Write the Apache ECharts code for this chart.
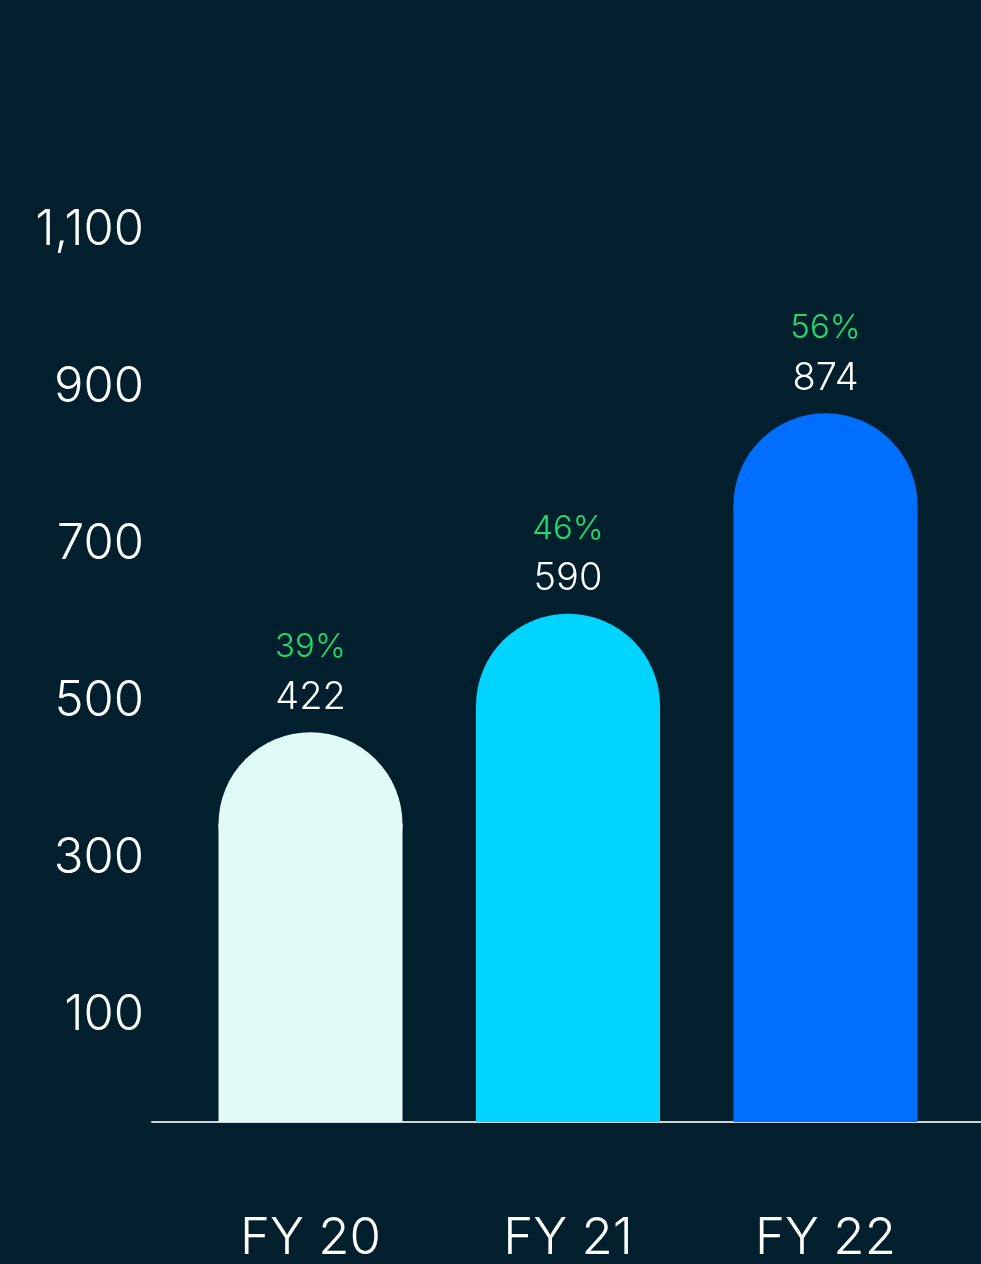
<!DOCTYPE html>
<html>
<head>
<meta charset="utf-8">
<script src="https://cdn.jsdelivr.net/npm/echarts@6/dist/echarts.min.js"></script>
<style>
  html, body { margin: 0; padding: 0; background: #021f2e; }
  #chart { width: 981px; height: 1264px; }
</style>
</head>
<body>
<div id="chart"></div>
<script>
// ---- data ----
const categories = ['FY 20', 'FY 21', 'FY 22'];
const values = [422, 590, 874];
const shares = ['39%', '46%', '56%'];
const yTickMin = -100;
const yTickMax = 1100;
const yTickStep = 200;

// ---- styles ----
const barColors = ['#e0faf6', '#00d4ff', '#006fff'];
const FONT = 'Inter';
const WEIGHT = 300;
const BAR_W = 184;

const chart = echarts.init(document.getElementById('chart'), null, { renderer: 'canvas' });

chart.setOption({
  backgroundColor: '#021f2e',
  animation: false,
  grid: [
    { left: 152, right: 0, top: 230, bottom: 92, outerBoundsMode: 'none', containLabel: false },
    { left: 181.75, right: 26.75, top: 134, bottom: 142, outerBoundsMode: 'none', containLabel: false }
  ],
  xAxis: [
    {
      gridIndex: 0, type: 'category', data: categories, position: 'bottom', offset: -50,
      axisLine: { show: true, onZero: false, lineStyle: { color: '#cdd5d8', width: 2 } },
      axisTick: { show: false }, axisLabel: { show: false }, splitLine: { show: false }
    },
    {
      gridIndex: 1, type: 'category', data: categories,
      axisLine: { show: false }, axisTick: { show: false },
      axisLabel: {
        color: '#ffffff', fontFamily: FONT, fontWeight: WEIGHT, fontSize: 51, margin: 117,
        verticalAlign: 'middle', lineHeight: 60
      }
    }
  ],
  yAxis: [
    {
      gridIndex: 0, type: 'value', min: yTickMin, max: yTickMax, interval: yTickStep,
      axisLine: { show: false }, axisTick: { show: false }, splitLine: { show: false },
      axisLabel: {
        color: '#ffffff', fontFamily: FONT, fontWeight: WEIGHT, fontSize: 49, margin: 8,
        formatter: v => v < 0 ? '' : v.toLocaleString('en-US')
      }
    },
    {
      gridIndex: 1, type: 'value', min: 0, max: 1400, show: false
    }
  ],
  series: [
    {
      type: 'bar', xAxisIndex: 1, yAxisIndex: 1, barWidth: BAR_W, silent: true,
      data: values.map((v, i) => ({ value: v, itemStyle: { color: barColors[i] } }))
    },
    {
      type: 'scatter', xAxisIndex: 1, yAxisIndex: 1, symbol: 'circle', symbolSize: BAR_W,
      silent: true, z: 3,
      data: values.map((v, i) => ({ value: v, itemStyle: { color: barColors[i], opacity: 1 } })),
      label: {
        show: true, position: 'top', distance: 10,
        formatter: p => '{p|' + shares[p.dataIndex] + '}\n{v|' + values[p.dataIndex] + '}',
        rich: {
          p: { color: '#1fdc6b', fontFamily: FONT, fontWeight: WEIGHT, fontSize: 33, lineHeight: 50, align: 'center' },
          v: { color: '#ffffff', fontFamily: FONT, fontWeight: WEIGHT, fontSize: 38, lineHeight: 50, align: 'center' }
        }
      }
    }
  ]
});
</script>
</body>
</html>
